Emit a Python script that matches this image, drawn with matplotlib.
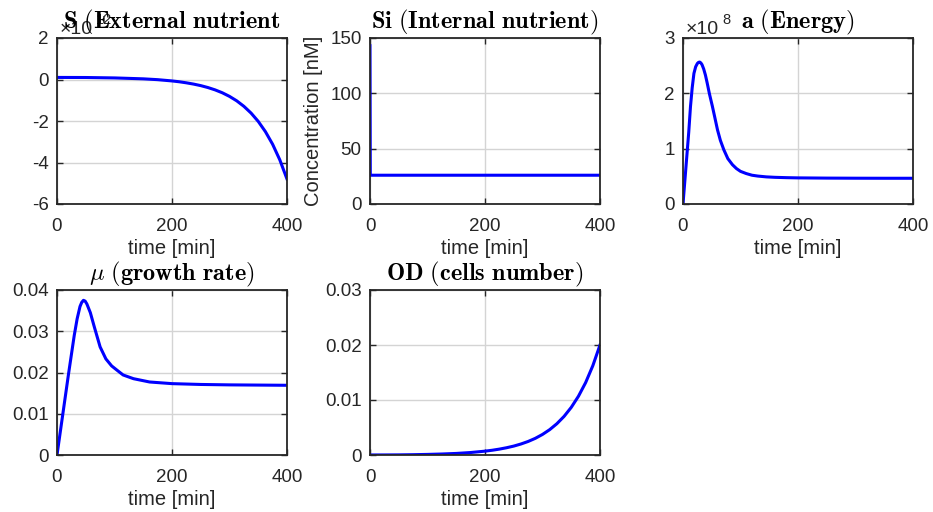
import matplotlib
matplotlib.use("Agg")
import matplotlib.pyplot as plt

# S: external nutrient (x1e12)
t_S = [0, 50, 100, 150, 175, 200, 212.5, 225, 237.5, 250, 262.5, 275, 287.5, 300, 312.5,
       325, 337.5, 350, 362.5, 375, 387.5, 400]
S_vals = [0.10, 0.096, 0.076, 0.032, -0.008, -0.069, -0.109, -0.160, -0.221, -0.295, -0.388,
          -0.501, -0.640, -0.814, -1.027, -1.292, -1.618, -2.020, -2.515, -3.122, -3.874, -4.798]

# Si: internal nutrient (nM)
t_Si = [0, 0.5, 400]
Si_vals = [143, 26, 26]

# a: energy (x1e8)
t_a = [0, 2, 4, 6, 8, 10, 13, 16, 19, 22, 25, 27, 29, 31, 33, 36, 39, 42, 46, 51, 55, 60, 65,
       71, 78, 86, 93, 100, 110, 120, 130, 145, 160, 180, 200, 250, 300, 350, 400]
a_vals = [0, 0.26, 0.52, 0.78, 1.04, 1.30, 1.76, 2.10, 2.36, 2.48, 2.54, 2.56, 2.565, 2.55, 2.52,
          2.44, 2.33, 2.19, 1.99, 1.77, 1.58, 1.34, 1.15, 0.98, 0.82, 0.71, 0.64, 0.59, 0.55,
          0.52, 0.505, 0.49, 0.482, 0.476, 0.472, 0.468, 0.466, 0.465, 0.465]

# mu: growth rate (1/min)
t_mu = [0, 10, 20, 30, 35, 40, 43, 46, 49, 52, 58, 65, 75, 85, 95, 104, 115, 133, 161, 200, 250, 300, 400]
mu_vals = [0, 0.0098, 0.0196, 0.0290, 0.0330, 0.0360, 0.0370, 0.0375, 0.0373, 0.0366, 0.0345,
           0.0310, 0.0262, 0.0233, 0.0216, 0.0206, 0.0194, 0.0185, 0.0177, 0.0173, 0.0171, 0.0170, 0.0169]

# OD: cells number
t_OD = [0, 25, 50, 75, 100, 125, 150, 175, 200, 212.5, 225, 237.5, 250, 262.5, 275, 287.5, 300,
        312.5, 325, 337.5, 350, 362.5, 375, 387.5, 400]
OD_vals = [0.0000085, 0.000012, 0.000025, 0.000057, 0.000108, 0.000181, 0.000285, 0.00045,
           0.00070, 0.000863, 0.00107, 0.00132, 0.00162, 0.0020, 0.00246, 0.00303, 0.00374,
           0.00461, 0.00569, 0.00702, 0.00866, 0.01068, 0.01316, 0.01623, 0.0200]

x_ticks = [0, 200, 400]

plt.rcParams['font.family'] = ['Liberation Sans', 'DejaVu Sans']
plt.rcParams['mathtext.fontset'] = 'cm'
plt.rcParams['axes.unicode_minus'] = False

dark = '#262626'
fig = plt.figure(figsize=(9.33, 5.12), dpi=100)

W, H = 933, 512
def make_ax(left, top, right, bottom):
    return fig.add_axes([left / W, 1 - bottom / H, (right - left) / W, (bottom - top) / H])

def style(ax, yticks, ylim):
    ax.set_xlim(0, 400)
    ax.set_ylim(*ylim)
    ax.set_xticks(x_ticks)
    ax.set_yticks(yticks)
    ax.grid(True, color='#d4d4d4', linewidth=1.0)
    ax.set_axisbelow(True)
    ax.tick_params(direction='in', length=4, width=1, top=True, right=True,
                   labelsize=13.5, colors=dark)
    ax.tick_params(axis='x', pad=10)
    ax.tick_params(axis='y', pad=6)
    for s in ax.spines.values():
        s.set_color(dark)
        s.set_linewidth(1.3)
    ax.set_xlabel('time [min]', fontsize=14.5, color=dark, labelpad=3)

def exponent(ax, p):
    ax.text(0.01, 1.0, '×10', transform=ax.transAxes, fontsize=14, color=dark, va='bottom', ha='left')
    ax.text(0.17, 1.065, str(p), transform=ax.transAxes, fontsize=10.5, color=dark, va='bottom', ha='left')

line_kw = dict(color='#0000ff', linewidth=2.2)
title_kw = dict(fontsize=17.5, pad=7)

ax1 = make_ax(57, 38, 287, 204)
ax1.plot(t_S, S_vals, **line_kw)
style(ax1, [-6, -4, -2, 0, 2], (-6, 2))
exponent(ax1, 12)
ax1.set_title(r'$\mathbf{S\ (External\ nutrient}$', **title_kw)

ax2 = make_ax(370, 38, 600, 204)
ax2.plot(t_Si, Si_vals, **line_kw)
style(ax2, [0, 50, 100, 150], (0, 150))
ax2.set_ylabel('Concentration [nM]', fontsize=14.5, color=dark, labelpad=5)
ax2.set_title(r'$\mathbf{Si\ (Internal\ nutrient)}$', **title_kw)

ax3 = make_ax(683, 38, 913, 204)
ax3.plot(t_a, a_vals, **line_kw)
style(ax3, [0, 1, 2, 3], (0, 3))
exponent(ax3, 8)
ax3.set_title(r'$\mathbf{a\ (Energy)}$', **title_kw)

ax4 = make_ax(57, 290, 287, 455)
ax4.plot(t_mu, mu_vals, **line_kw)
style(ax4, [0, 0.01, 0.02, 0.03, 0.04], (0, 0.04))
ax4.set_yticklabels(['0', '0.01', '0.02', '0.03', '0.04'])
ax4.set_title(r'$\mu\ \mathbf{(growth\ rate)}$', **title_kw)

ax5 = make_ax(370, 290, 600, 455)
ax5.plot(t_OD, OD_vals, **line_kw)
style(ax5, [0, 0.01, 0.02, 0.03], (0, 0.03))
ax5.set_yticklabels(['0', '0.01', '0.02', '0.03'])
ax5.set_title(r'$\mathbf{OD\ (cells\ number)}$', **title_kw)

fig.savefig('out.png', dpi=100)
